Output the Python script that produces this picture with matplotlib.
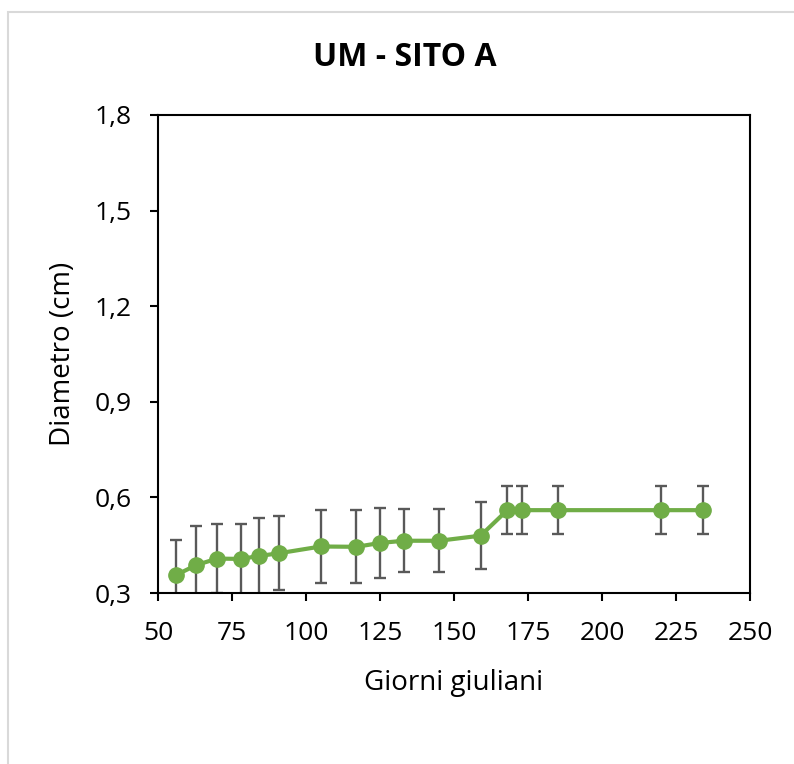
import matplotlib
matplotlib.use('Agg')
import matplotlib.pyplot as plt
import matplotlib.patches as mpatches
from matplotlib.ticker import FuncFormatter

plt.rcParams.update({
    'font.family': ['Open Sans', 'DejaVu Sans'],
    'font.size': 19,
})

# data
giorni = [56, 63, 70, 78, 84, 91, 105, 117, 125, 133, 145, 159, 168, 173, 185, 220, 234]
diametro = [0.356, 0.388, 0.408, 0.407, 0.416, 0.425, 0.446, 0.445, 0.457, 0.464, 0.464,
            0.480, 0.560, 0.560, 0.560, 0.560, 0.560]
errore = [0.110, 0.122, 0.108, 0.110, 0.118, 0.117, 0.115, 0.115, 0.110, 0.099, 0.099,
          0.106, 0.076, 0.076, 0.076, 0.076, 0.076]

C_LINE = '#70AD47'
C_ERR = '#595959'

fig = plt.figure(figsize=(7.94, 7.64), dpi=100)
ax = fig.add_axes([0.199, 0.2238, 0.7456, 0.6257])

# chart area border
fig.patches.append(mpatches.Rectangle((0.010, -0.01), 1.2, 0.994, transform=fig.transFigure,
                                      facecolor='none', edgecolor='#D9D9D9', lw=1.5))

ax.errorbar(giorni, diametro, yerr=errore, fmt='none', ecolor=C_ERR, elinewidth=1.7,
            capsize=4.5, capthick=1.7, zorder=2)
ax.plot(giorni, diametro, color=C_LINE, lw=3, marker='o', markersize=11,
        markerfacecolor=C_LINE, markeredgecolor=C_LINE, zorder=3)

ax.set_xlim(50, 250)
ax.set_ylim(0.3, 1.8)
ax.set_xticks(range(50, 251, 25))
ax.set_yticks([0.3, 0.6, 0.9, 1.2, 1.5, 1.8])
ax.yaxis.set_major_formatter(FuncFormatter(lambda v, p: f'{v:.1f}'.replace('.', ',')))

for s in ax.spines.values():
    s.set_linewidth(1.5)
    s.set_color('black')
ax.tick_params(direction='out', length=6, width=1.5, labelsize=19)
ax.tick_params(axis='x', pad=14)
ax.tick_params(axis='y', pad=13)

ax.set_xlabel('Giorni giuliani', fontsize=20, va='baseline')
ax.xaxis.set_label_coords(0.5, -0.203)
ax.set_ylabel('Diametro (cm)', fontsize=20, va='center')
ax.yaxis.set_label_coords(-0.16, 0.5)
fig.text(0.51, 0.925, 'UM - SITO A', ha='center', va='center',
         fontsize=23, fontweight='bold')

plt.savefig('out.png', dpi=100, facecolor='white')
plt.close()
